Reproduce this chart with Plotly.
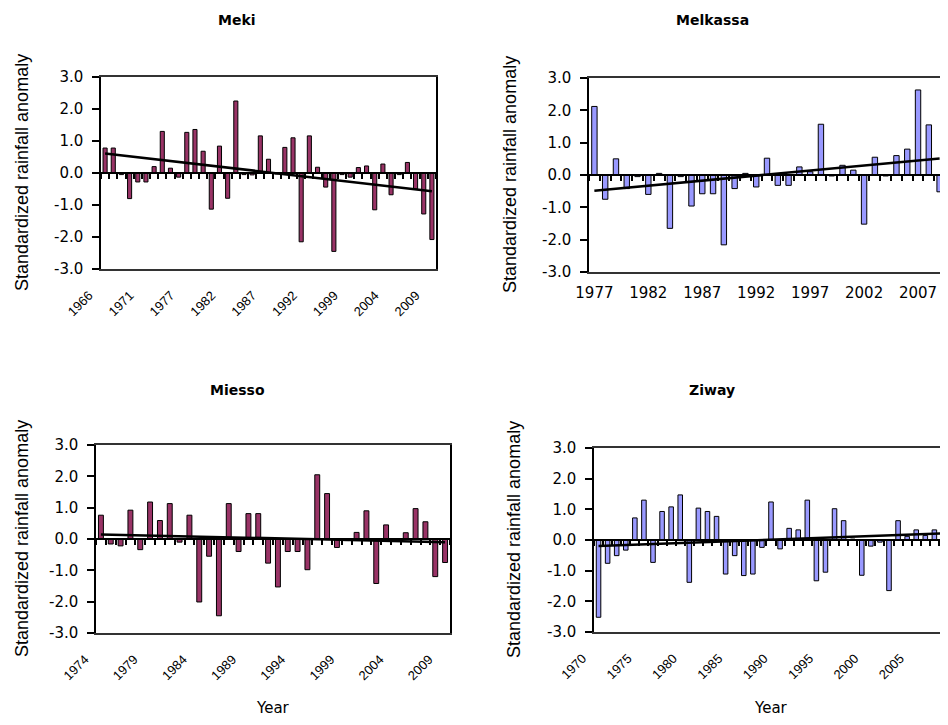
import numpy as np
import plotly.graph_objects as go

# ---------------- data ----------------
meki_years = ([str(y) for y in range(1966, 1972)] + ["1973", "1974", "1975", "1976"]
              + [str(y) for y in range(1977, 1993)] + ["1993", "1994", "1997", "1998"]
              + [str(y) for y in range(1999, 2010)])
meki_values = [0.78, 0.78, -0.05, -0.80, -0.28, -0.28, 0.20, 1.30, 0.15, -0.13,
               1.27, 1.36, 0.68, -1.13, 0.84, -0.79, 2.25, -0.05, -0.06, 1.16,
               0.43, -0.03, 0.80, 1.10, -2.15, 1.16, 0.18, -0.44, -2.45, -0.05,
               -0.13, 0.17, 0.22, -1.15, 0.28, -0.68, -0.05, 0.33, -0.50, -1.28,
               -2.08]
meki_labels = ["1966", "1971", "1977", "1982", "1987", "1992", "1999", "2004", "2009"]

melkassa_years = [str(y) for y in range(1977, 2010)]
melkassa_values = [2.12, -0.75, 0.50, -0.42, -0.05, -0.60, 0.05, -1.65, -0.05, -0.96,
                   -0.58, -0.58, -2.16, -0.42, 0.05, -0.37, 0.52, -0.32, -0.32, 0.25,
                   0.10, 1.57, -0.03, 0.30, 0.15, -1.52, 0.55, -0.03, 0.60, 0.80,
                   2.63, 1.55, -0.52]
melkassa_labels = ["1977", "1982", "1987", "1992", "1997", "2002", "2007"]

miesso_years = [str(y) for y in range(1974, 2010)]
miesso_values = [0.76, -0.16, -0.22, 0.92, -0.34, 1.18, 0.59, 1.13, -0.10, 0.76,
                 -2.01, -0.55, -2.45, 1.13, -0.40, 0.81, 0.81, -0.77, -1.53, -0.40,
                 -0.40, -0.98, 2.05, 1.45, -0.27, -0.05, 0.21, 0.90, -1.42, 0.45,
                 -0.05, 0.20, 0.97, 0.55, -1.20, -0.75]
miesso_labels = ["1974", "1979", "1984", "1989", "1994", "1999", "2004", "2009"]

ziway_years = [str(y) for y in range(1970, 2009)]
ziway_values = [-2.52, -0.76, -0.51, -0.33, 0.72, 1.30, -0.73, 0.93, 1.08, 1.47,
                -1.38, 1.04, 0.93, 0.77, -1.11, -0.51, -1.16, -1.11, -0.24, 1.24,
                -0.29, 0.38, 0.33, 1.30, -1.33, -1.05, 1.02, 0.63, 0.03, -1.15,
                -0.20, -0.07, -1.65, 0.63, 0.12, 0.33, 0.15, 0.33, 1.77]
ziway_labels = ["1970", "1975", "1980", "1985", "1990", "1995", "2000", "2005"]

y_tick_vals = [3, 2, 1, 0, -1, -2, -3]
y_tick_text = ["3.0", "2.0", "1.0", "0.0", "-1.0", "-2.0", "-3.0"]

# ---------------- layout helpers ----------------
# the page body has an 8px margin, so the figure is sized to end at the window edge
OFF = 8
W, H = 948 - OFF, 725 - OFF
ARIAL = "Liberation Sans, Arial, sans-serif"
WIDE = "DejaVu Sans, Verdana, sans-serif"
PLUM = "#993366"
PERI = "#9999FF"


def px_x(v):
    return (v - OFF) / W


def px_y(v):
    return 1 - (v - OFF) / H


panels = [
    dict(name="Meki", years=meki_years, vals=meki_values, labels=meki_labels, color=PLUM,
         x0=101, x1=436, y0=77, y1=269, angle=-45, right=True, xtitle=False,
         tx=237, ty=20, ytx=22),
    dict(name="Melkassa", years=melkassa_years, vals=melkassa_values, labels=melkassa_labels,
         color=PERI, x0=589, x1=945, y0=78, y1=272, angle=0, right=True, xtitle=False,
         tx=712, ty=20, ytx=510),
    dict(name="Miesso", years=miesso_years, vals=miesso_values, labels=miesso_labels, color=PLUM,
         x0=96, x1=450, y0=445, y1=633, angle=-45, right=True, xtitle=True,
         tx=237, ty=390, ytx=22),
    dict(name="Ziway", years=ziway_years, vals=ziway_values, labels=ziway_labels, color=PERI,
         x0=594, x1=948, y0=448, y1=632, angle=-45, right=False, xtitle=True,
         tx=712, ty=390, ytx=514),
]

fig = go.Figure()
annotations = []
layout = {}

for i, p in enumerate(panels, start=1):
    n = len(p["years"])
    xa, ya, xz = f"x{i}", f"y{i}", f"x{i + 4}"
    fig.add_trace(go.Bar(x=p["years"], y=p["vals"], xaxis=xa, yaxis=ya,
                         marker=dict(color=p["color"], line=dict(color="black", width=1)),
                         showlegend=False, hoverinfo="x+y"))
    idx = np.arange(n)
    slope, intercept = np.polyfit(idx, np.array(p["vals"]), 1)
    trend = (slope * idx + intercept).tolist()
    fig.add_trace(go.Scatter(x=p["years"], y=trend, xaxis=xz, yaxis=ya, mode="lines",
                             line=dict(color="black", width=2.5), showlegend=False,
                             hoverinfo="skip"))

    dx = [px_x(p["x0"]), min(px_x(p["x1"]), 1.0)]
    dy = [px_y(p["y1"]), px_y(p["y0"])]
    if p["angle"] == 0:
        xfont = dict(family=WIDE, size=15, color="black")
        xextra = dict(ticklabelstandoff=6)
    else:
        xfont = dict(family=ARIAL, size=13, color="black")
        xextra = dict(ticklabelstandoff=12, ticklabelshift=-16)
    layout[f"xaxis{i}"] = dict(
        domain=dx, anchor=ya, type="category", range=[-0.5, n - 0.5], automargin=False,
        tickmode="array", tickvals=p["labels"], ticktext=p["labels"], tickangle=p["angle"],
        ticks="", showline=True, mirror=True, linecolor="#333", linewidth=1.5,
        showgrid=False, zeroline=False, tickfont=xfont, **xextra,
    )
    layout[f"yaxis{i}"] = dict(
        domain=dy, anchor=xa, range=[-3, 3], tickmode="array", automargin=False,
        tickvals=y_tick_vals, ticktext=y_tick_text, ticks="outside", ticklen=7,
        tickwidth=1.5, tickcolor="black", showline=True, mirror=p["right"],
        linecolor="black", linewidth=1.5, showgrid=False, zeroline=False,
        ticklabelstandoff=6,
        tickfont=dict(family=WIDE, size=15, color="black"),
    )
    layout[f"xaxis{i + 4}"] = dict(
        overlaying=xa, anchor="free", position=(dy[0] + dy[1]) / 2, side="bottom",
        type="category", range=[-0.5, n - 0.5], tickmode="linear", tick0=0, dtick=1,
        automargin=False,
        tickson="boundaries", ticks="outside", ticklen=5, tickwidth=1.5, tickcolor="black",
        showticklabels=False, showline=True, linecolor="black", linewidth=1.5,
        showgrid=False, zeroline=False,
    )
    annotations.append(dict(text=f"<b>{p['name']}</b>", x=px_x(p["tx"]), y=px_y(p["ty"]),
                            xref="paper", yref="paper", showarrow=False,
                            xanchor="center", yanchor="middle",
                            font=dict(family=WIDE, size=14, color="black")))
    annotations.append(dict(text="Standardized rainfall anomaly",
                            x=px_x(p["ytx"]), y=(dy[0] + dy[1]) / 2,
                            xref="paper", yref="paper", showarrow=False, textangle=-90,
                            xanchor="center", yanchor="middle",
                            font=dict(family=ARIAL, size=18, color="black")))
    if p["xtitle"]:
        annotations.append(dict(text="Year", x=(dx[0] + dx[1]) / 2, y=px_y(708),
                                xref="paper", yref="paper", showarrow=False,
                                xanchor="center", yanchor="middle",
                                font=dict(family=WIDE, size=15, color="black")))

fig.update_layout(
    width=W, height=H, margin=dict(l=0, r=0, t=0, b=0, autoexpand=False),
    paper_bgcolor="white", plot_bgcolor="white",
    bargap=0.5, annotations=annotations, showlegend=False,
    font=dict(family=ARIAL, color="black"),
    **layout,
)

fig.write_html("out.html")
